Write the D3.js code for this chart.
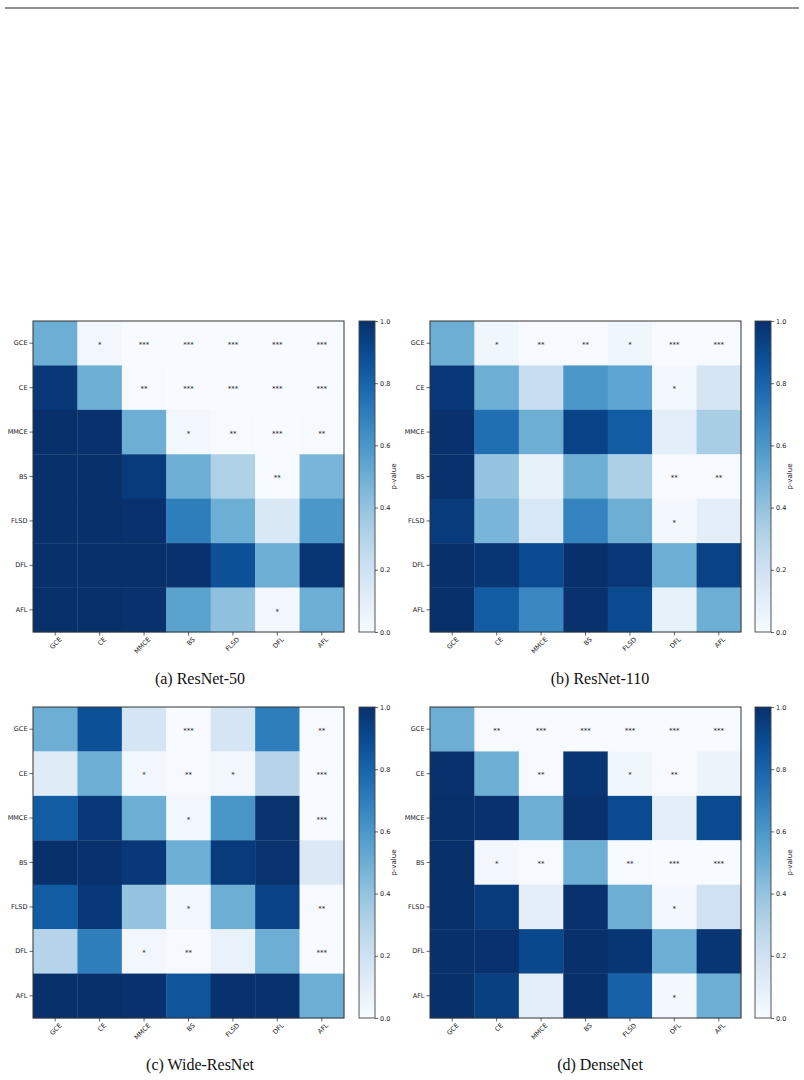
<!DOCTYPE html>
<html lang="en">
<head>
<meta charset="UTF-8">
<title>p-value heatmaps</title>
<style>
body { margin: 0; background: #fff; }
svg { display: block; }
.tick text { font-family: "DejaVu Sans", sans-serif; font-size: 6.5px; fill: #222; }
.tick line { stroke: #222; stroke-width: 0.7; }
.domain { display: none; }
.star { font-family: "DejaVu Sans", sans-serif; font-size: 7px; fill: #222; }
.caption { font-family: "Liberation Serif", "Times New Roman", serif; font-size: 16px; fill: #111; }
.cblabel { font-family: "DejaVu Sans", sans-serif; font-size: 7px; fill: #222; }
</style>
</head>
<body>
<svg width="804" height="1080"></svg>
<script src="https://cdn.jsdelivr.net/npm/d3@7"></script>
<script>
// methods, same order on both axes
const methods = ['GCE', 'CE', 'MMCE', 'BS', 'FLSD', 'DFL', 'AFL'];
const captions = ['(a) ResNet-50', '(b) ResNet-110', '(c) Wide-ResNet', '(d) DenseNet'];
const cbTicks = [0.0, 0.2, 0.4, 0.6, 0.8, 1.0];

// p-values (row = method, column = compared method)
const resnet50 = [
    [0.5,    0.03,   0.0005, 0.0005, 0.0005, 0.0005, 0.0005],
    [0.97,   0.5,    0.005,  0.0005, 0.0005, 0.0005, 0.0005],
    [0.9995, 0.995,  0.5,    0.03,   0.005,  0.0005, 0.005],
    [0.9995, 0.9995, 0.96,   0.5,    0.32,   0.005,  0.47],
    [0.9995, 0.9995, 0.995,  0.7,    0.5,    0.15,   0.6],
    [0.9995, 0.9995, 0.9995, 0.995,  0.88,   0.5,    0.98],
    [0.9995, 0.9995, 0.995,  0.55,   0.41,   0.03,   0.5]
];
const resnet110 = [
    [0.5,    0.04,   0.005,  0.005,  0.04,   0.0005, 0.0005],
    [0.97,   0.5,    0.23,   0.6,    0.54,   0.03,   0.17],
    [0.995,  0.76,   0.5,    0.93,   0.83,   0.1,    0.34],
    [0.995,  0.4,    0.08,   0.5,    0.33,   0.005,  0.005],
    [0.96,   0.47,   0.16,   0.68,   0.5,    0.02,   0.1],
    [0.9995, 0.98,   0.9,    0.997,  0.97,   0.5,    0.93],
    [0.9995, 0.83,   0.66,   0.995,  0.9,    0.08,   0.5]
];
const wideResnet = [
    [0.5,    0.88,   0.17,   0.0005, 0.17,   0.7,    0.005],
    [0.12,   0.5,    0.03,   0.005,  0.03,   0.3,    0.0005],
    [0.83,   0.97,   0.5,    0.03,   0.61,   0.99,   0.0005],
    [0.9995, 0.995,  0.97,   0.5,    0.96,   0.99,   0.14],
    [0.83,   0.97,   0.4,    0.03,   0.5,    0.93,   0.005],
    [0.3,    0.7,    0.03,   0.005,  0.07,   0.5,    0.0005],
    [0.9995, 0.9995, 0.995,  0.86,   0.995,  0.995,  0.5]
];
const densenet = [
    [0.5,    0.005,  0.0005, 0.0005, 0.0005, 0.0005, 0.0005],
    [0.995,  0.5,    0.005,  0.98,   0.04,   0.005,  0.06],
    [0.9995, 0.995,  0.5,    0.995,  0.9,    0.1,    0.9],
    [0.9995, 0.03,   0.005,  0.5,    0.005,  0.0005, 0.0005],
    [0.9995, 0.96,   0.1,    0.995,  0.5,    0.02,   0.2],
    [0.9995, 0.995,  0.91,   0.9995, 0.98,   0.5,    0.98],
    [0.9995, 0.94,   0.1,    0.9995, 0.81,   0.02,   0.5]
];
const matrices = [resnet50, resnet110, wideResnet, densenet];

var svg = d3.select('svg');

// rule at the top of the page
svg.append('line')
    .attr('x1', 5).attr('x2', 799)
    .attr('y1', 8).attr('y2', 8)
    .attr('stroke', '#222')
    .attr('stroke-width', 1.2);

var size = 311;
var panelPos = [
    { x: 33,  y: 321 },
    { x: 430, y: 321 },
    { x: 33,  y: 707 },
    { x: 430, y: 707 }
];

var color = d3.scaleSequential(d3.interpolateBlues).domain([0, 1]);

// gradient for the colorbar
var grad = svg.append('defs').append('linearGradient')
    .attr('id', 'blues')
    .attr('x1', 0).attr('x2', 0).attr('y1', 1).attr('y2', 0);
d3.range(0, 1.0001, 0.05).forEach(function(t) {
    grad.append('stop').attr('offset', t).attr('stop-color', color(t));
});

function stars(p) {
    if (p < 0.001) return '***';
    if (p < 0.01) return '**';
    if (p < 0.05) return '*';
    return '';
}

var x = d3.scaleBand().domain(methods).range([0, size]).padding(0);
var y = d3.scaleBand().domain(methods).range([0, size]).padding(0);
var cb = d3.scaleLinear().domain([0, 1]).range([size, 0]);

matrices.forEach(function(mat, k) {
    var pos = panelPos[k];
    var g = svg.append('g')
        .attr('transform', 'translate(' + pos.x + ',' + pos.y + ')');

    var cells = [];
    mat.forEach(function(row, i) {
        row.forEach(function(v, j) {
            cells.push({ row: methods[i], col: methods[j], p: v });
        });
    });

    g.selectAll('rect.cell')
        .data(cells)
        .enter().append('rect')
        .attr('class', 'cell')
        .attr('x', function(d) { return x(d.col); })
        .attr('y', function(d) { return y(d.row); })
        .attr('width', x.bandwidth() + 0.3)
        .attr('height', y.bandwidth() + 0.3)
        .attr('fill', function(d) { return color(d.p); });

    g.selectAll('text.star')
        .data(cells.filter(function(d) { return stars(d.p) !== ''; }))
        .enter().append('text')
        .attr('class', 'star')
        .attr('x', function(d) { return x(d.col) + x.bandwidth() / 2; })
        .attr('y', function(d) { return y(d.row) + y.bandwidth() / 2; })
        .attr('dy', '0.55em')
        .attr('text-anchor', 'middle')
        .text(function(d) { return stars(d.p); });

    g.append('rect')
        .attr('width', size).attr('height', size)
        .attr('fill', 'none')
        .attr('stroke', '#333')
        .attr('stroke-width', 1);

    // axes
    g.append('g')
        .call(d3.axisLeft(y).tickSize(3.5).tickPadding(2));

    g.append('g')
        .attr('transform', 'translate(0,' + size + ')')
        .call(d3.axisBottom(x).tickSize(3.5).tickPadding(2))
        .selectAll('text')
            .attr('text-anchor', 'end')
            .attr('dy', 0)
            .attr('transform', 'translate(3,4) rotate(-45)');

    // colorbar
    var cbx = 326 - (k % 2);
    var cbg = g.append('g').attr('transform', 'translate(' + cbx + ',0)');
    cbg.append('rect')
        .attr('width', 16).attr('height', size)
        .attr('fill', 'url(#blues)')
        .attr('stroke', '#444')
        .attr('stroke-width', 0.9);
    cbg.append('g')
        .attr('transform', 'translate(16,0)')
        .call(d3.axisRight(cb).tickValues(cbTicks).tickFormat(d3.format('.1f')).tickSize(3).tickPadding(2));
    cbg.append('text')
        .attr('class', 'cblabel')
        .attr('transform', 'translate(37,' + size / 2 + ') rotate(-90)')
        .attr('text-anchor', 'middle')
        .text('p-value');

    // caption
    svg.append('text')
        .attr('class', 'caption')
        .attr('x', k % 2 === 0 ? 200 : 600)
        .attr('y', pos.y + size + 52)
        .attr('text-anchor', 'middle')
        .text(captions[k]);
});
</script>
</body>
</html>
